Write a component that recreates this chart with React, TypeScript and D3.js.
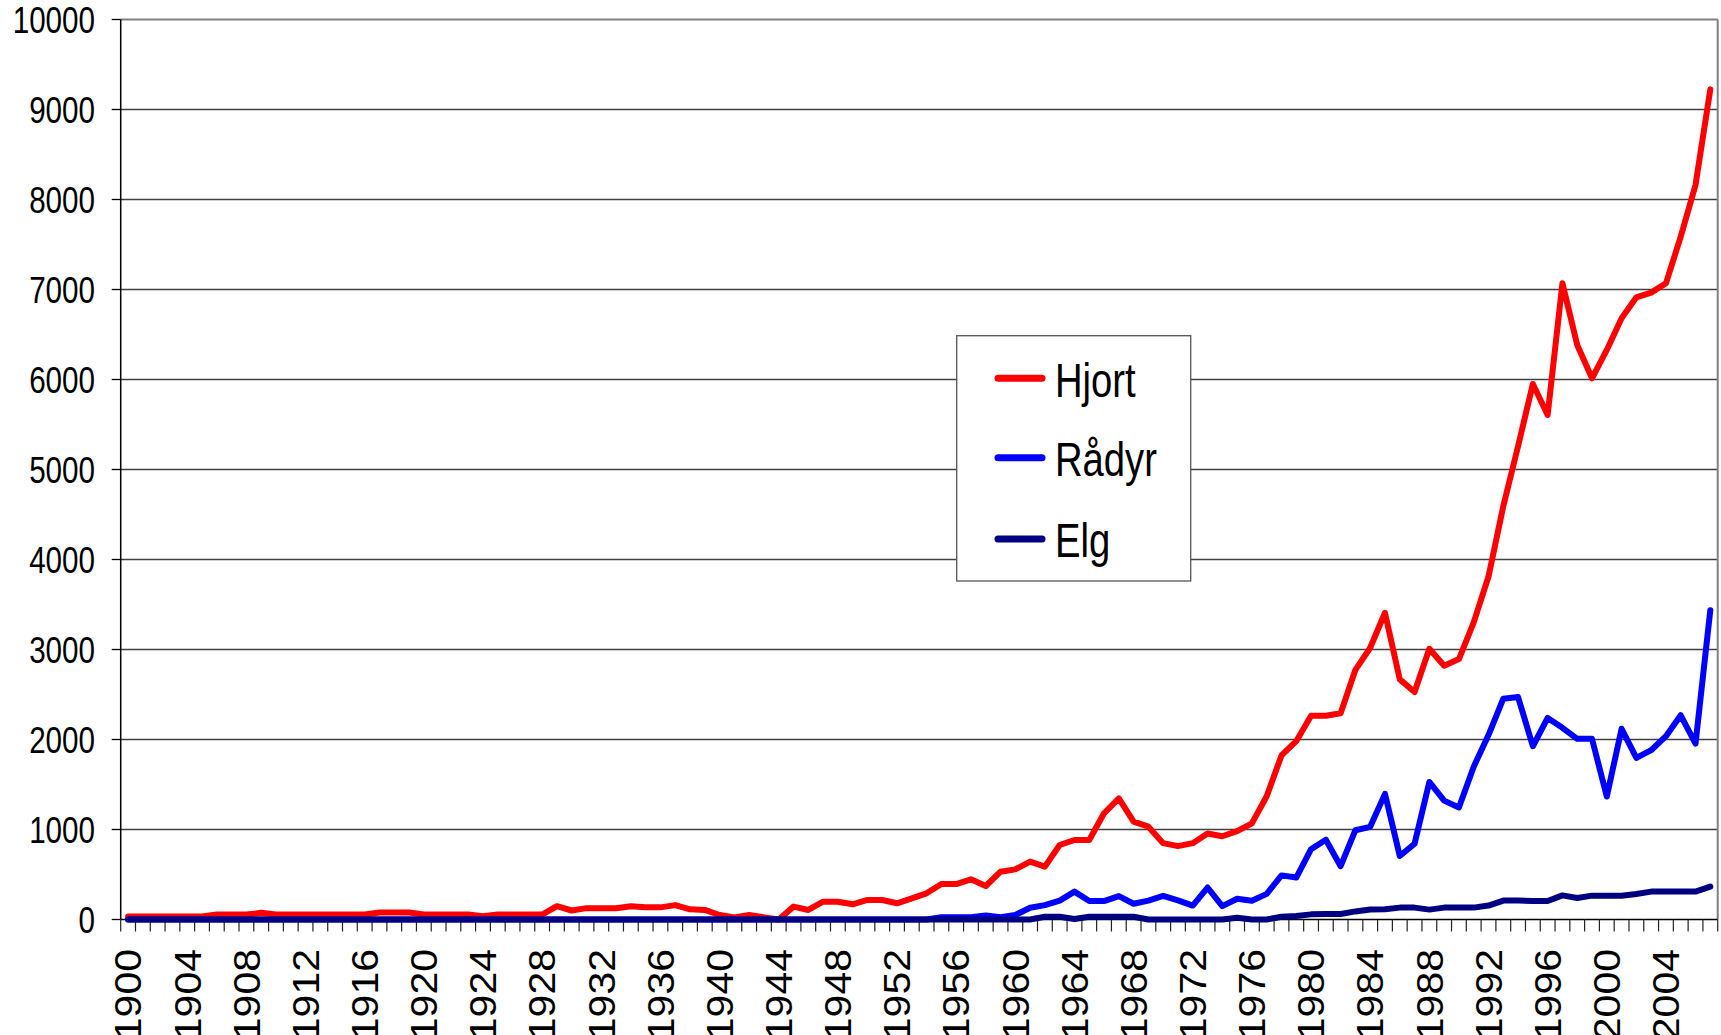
import React, { useMemo } from 'react';
import * as d3 from 'd3';

// years on the category axis
const YEARS = d3.range(1900, 2008);

// one value per year 1900..2007
const HJORT = [
  33, 33, 33, 33, 33, 33, 55, 55, 55, 74,
  55, 55, 55, 55, 55, 55, 55, 78, 78, 78,
  55, 55, 55, 55, 37, 55, 55, 55, 55, 148,
  100, 126, 126, 126, 148, 135, 135, 160, 113, 106,
  50, 24, 50, 24, 0, 143, 106, 198, 198, 169,
  217, 217, 180, 235, 291, 394, 394, 446, 372, 531,
  557, 643, 587, 828, 883, 883, 1180, 1346, 1087, 1031,
  848, 815, 848, 955, 925, 981, 1068, 1370, 1823, 1981,
  2264, 2264, 2291, 2774, 3019, 3408, 2668, 2528, 3008, 2819,
  2894, 3302, 3811, 4592, 5260, 5950, 5606, 7069, 6383, 6013,
  6328, 6680, 6913, 6965, 7069, 7587, 8161, 9224,
];

const RADYR = [
  0, 0, 0, 0, 0, 0, 0, 0, 0, 0,
  0, 0, 0, 0, 0, 0, 0, 0, 0, 0,
  0, 0, 0, 0, 0, 0, 0, 0, 0, 0,
  0, 0, 0, 0, 0, 0, 0, 0, 0, 0,
  0, 0, 0, 0, 0, 0, 0, 0, 0, 0,
  0, 0, 0, 0, 0, 25, 25, 25, 45, 25,
  50, 130, 160, 210, 310, 205, 205, 260, 175, 210,
  262, 212, 155, 355, 148, 230, 208, 285, 490, 466,
  781, 887, 592, 992, 1030, 1396, 706, 842, 1528, 1321,
  1245, 1698, 2049, 2453, 2472, 1925, 2240, 2130, 2007, 2007,
  1366, 2119, 1795, 1881, 2037, 2269, 1955, 3437,
];

const ELG = [
  0, 0, 0, 0, 0, 0, 0, 0, 0, 0,
  0, 0, 0, 0, 0, 0, 0, 0, 0, 0,
  0, 0, 0, 0, 0, 0, 0, 0, 0, 0,
  0, 0, 0, 0, 0, 0, 0, 0, 0, 0,
  0, 0, 0, 0, 0, 0, 0, 0, 0, 0,
  0, 0, 0, 0, 0, 0, 0, 0, 0, 0,
  0, 0, 30, 30, 5, 30, 30, 30, 30, 0,
  0, 0, 0, 0, 0, 20, 0, 0, 30, 40,
  57, 62, 62, 90, 110, 115, 132, 132, 110, 132,
  132, 132, 155, 210, 210, 205, 205, 268, 239, 265,
  265, 265, 284, 310, 310, 310, 310, 366,
];

const SERIES_NAMES = ['Hjort', 'Rådyr', 'Elg'];
const SERIES_COLORS = ['#ff0000', '#0000ff', '#000080'];
const Y_TICKS = [0, 1000, 2000, 3000, 4000, 5000, 6000, 7000, 8000, 9000, 10000];
const X_LABELS = YEARS.filter(y => (y - 1900) % 4 === 0);

const W = 1721;
const H = 1035;
const margin = { left: 120.7, right: 3.3, top: 19.5, bottom: 115.5 };
const FONT = 'Liberation Sans, Arial, sans-serif';

const App = () => {
  const x = useMemo(() => d3.scaleBand<number>()
    .domain(YEARS)
    .range([margin.left, W - margin.right])
    .padding(0), []);
  const y = useMemo(() => d3.scaleLinear()
    .domain([0, 10000])
    .range([H - margin.bottom, margin.top]), []);

  const cx = (yr: number) => (x(yr) as number) + x.bandwidth() / 2;
  const line = d3.line<number>()
    .x((_, i) => cx(YEARS[i]))
    .y(d => y(d));

  const series = [HJORT, RADYR, ELG];
  const x0 = margin.left;
  const x1 = W - margin.right;
  const yBase = y(0);

  // category boundaries for tick marks
  const boundaries = YEARS.map(yr => x(yr) as number).concat([x1]);

  // legend box
  const lg = { x: 956.7, y: 335.7, w: 234, h: 245.3 };
  const legendRows = [378.3, 457.8, 539];

  return (
    <svg width={W} height={H} style={{ position: 'absolute', left: 0, top: 0, background: '#fff' }}>
      <rect x={0} y={0} width={W} height={H} fill="#fff" />

      {/* gridlines */}
      {Y_TICKS.filter(t => t > 0 && t < 10000).map(t => (
        <line key={t} x1={x0} x2={x1} y1={y(t)} y2={y(t)} stroke="#404040" strokeWidth={1.3} />
      ))}
      {/* plot border top & right */}
      <line x1={x0} x2={x1} y1={y(10000)} y2={y(10000)} stroke="#808080" strokeWidth={2} />
      <line x1={x1} x2={x1} y1={y(10000)} y2={yBase} stroke="#808080" strokeWidth={2} />

      {/* y axis */}
      <line x1={x0} x2={x0} y1={y(10000)} y2={yBase} stroke="#000" strokeWidth={1.5} />
      {Y_TICKS.map(t => (
        <g key={t}>
          <line x1={x0 - 9} x2={x0} y1={y(t)} y2={y(t)} stroke="#000" strokeWidth={1.3} />
          <text
            transform={`translate(95,${y(t)}) scale(0.8,1)`}
            textAnchor="end"
            dy="0.36em"
            fontFamily={FONT}
            fontSize={37}
            fill="#000"
          >{t}</text>
        </g>
      ))}

      {/* x axis */}
      <line x1={x0} x2={x1} y1={yBase} y2={yBase} stroke="#000" strokeWidth={1.5} />
      {boundaries.map((b, i) => (
        <line key={i} x1={b} x2={b} y1={yBase} y2={yBase + 12} stroke="#222" strokeWidth={1.2} />
      ))}
      {X_LABELS.map(yr => (
        <text
          key={yr}
          transform={`translate(${cx(yr)},949) scale(0.9,1) rotate(-90)`}
          textAnchor="end"
          dy="0.36em"
          fontFamily={FONT}
          fontSize={41}
          fill="#000"
        >{yr}</text>
      ))}

      {/* series */}
      {series.map((s, i) => (
        <path
          key={SERIES_NAMES[i]}
          d={line(s) || ''}
          fill="none"
          stroke={SERIES_COLORS[i]}
          strokeWidth={6}
          strokeLinejoin="round"
          strokeLinecap="round"
        />
      ))}

      {/* legend */}
      <rect x={lg.x} y={lg.y} width={lg.w} height={lg.h} fill="#fff" stroke="#555" strokeWidth={1.3} />
      {SERIES_NAMES.map((name, i) => (
        <g key={name}>
          <line x1={998} x2={1042} y1={legendRows[i]} y2={legendRows[i]}
            stroke={SERIES_COLORS[i]} strokeWidth={7} strokeLinecap="round" />
          <text
            transform={`translate(1055,${legendRows[i] + 18.3}) scale(0.78,1)`}
            fontFamily={FONT}
            fontSize={49}
            fill="#000"
          >{name}</text>
        </g>
      ))}
    </svg>
  );
};

export default App;
